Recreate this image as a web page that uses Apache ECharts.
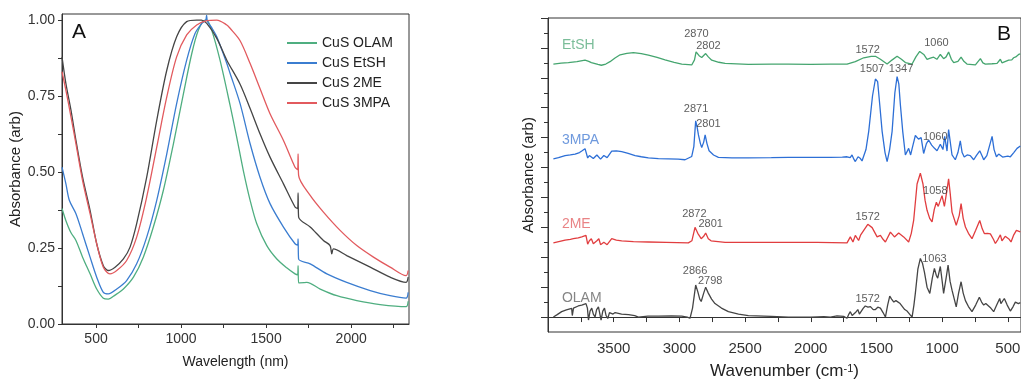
<!DOCTYPE html>
<html><head><meta charset="utf-8">
<script src="https://cdn.jsdelivr.net/npm/echarts@6/dist/echarts.min.js"></script>
<style>html,body{margin:0;padding:0;background:#fff}#c{width:1021px;height:383px}</style>
</head><body><div id="c"></div>
<script>
// ---------- Panel A: UV-Vis-NIR absorbance (wavelength nm, absorbance) ----------
const uvNames = ['CuS OLAM', 'CuS EtSH', 'CuS 2ME', 'CuS 3MPA'];
const uvOLAM = [[300,0.38],[323,0.34],[353,0.30],[382,0.275],[421,0.22],[465,0.165],[504,0.115],[543,0.085],[572,0.082],[612,0.095],[661,0.115],[720,0.154],[778,0.22],[837,0.319],[896,0.44],[955,0.593],[1014,0.758],[1063,0.89],[1102,0.967],[1141,1.0],[1151,1.0],[1180,0.967],[1229,0.868],[1288,0.72],[1327,0.615],[1366,0.505],[1406,0.407],[1445,0.33],[1504,0.258],[1563,0.214],[1621,0.185],[1670,0.165],[1685,0.162],[1688,0.192],[1691,0.135],[1739,0.137],[1818,0.115],[1916,0.093],[2033,0.077],[2170,0.064],[2323,0.057],[2335,0.075]];
const uvEtSH = [[300,0.516],[323,0.461],[343,0.407],[382,0.363],[421,0.297],[465,0.22],[504,0.154],[543,0.104],[572,0.099],[622,0.115],[680,0.143],[739,0.198],[798,0.286],[857,0.407],[916,0.56],[974,0.725],[1033,0.868],[1082,0.956],[1122,0.989],[1145,1.0],[1150,1.015],[1155,0.995],[1180,0.975],[1210,0.945],[1269,0.857],[1288,0.825],[1347,0.725],[1406,0.593],[1464,0.483],[1523,0.396],[1602,0.319],[1670,0.264],[1685,0.26],[1688,0.28],[1691,0.214],[1759,0.198],[1857,0.165],[1974,0.137],[2112,0.11],[2229,0.093],[2323,0.085],[2335,0.104]];
const uv2ME = [[300,0.879],[323,0.791],[353,0.703],[382,0.604],[421,0.483],[465,0.374],[504,0.264],[543,0.192],[572,0.176],[612,0.187],[661,0.214],[700,0.253],[739,0.33],[798,0.483],[857,0.67],[916,0.835],[974,0.945],[1033,0.995],[1092,1.0],[1120,1.0],[1151,0.989],[1210,0.94],[1269,0.868],[1347,0.789],[1406,0.709],[1464,0.626],[1523,0.549],[1602,0.461],[1670,0.385],[1685,0.38],[1688,0.431],[1691,0.352],[1759,0.319],[1837,0.275],[1876,0.258],[1886,0.231],[1896,0.247],[1974,0.225],[2112,0.187],[2229,0.154],[2323,0.137],[2335,0.154]];
const uv3MPA = [[300,0.83],[323,0.769],[353,0.681],[382,0.593],[421,0.472],[465,0.363],[504,0.264],[543,0.187],[582,0.165],[622,0.176],[680,0.209],[739,0.286],[798,0.418],[857,0.582],[916,0.747],[974,0.879],[1033,0.951],[1092,0.984],[1151,0.998],[1210,1.0],[1269,0.984],[1288,0.973],[1347,0.932],[1406,0.857],[1464,0.775],[1523,0.692],[1602,0.604],[1670,0.516],[1685,0.508],[1688,0.56],[1691,0.489],[1759,0.423],[1837,0.368],[1935,0.308],[2033,0.258],[2131,0.22],[2229,0.187],[2323,0.159],[2335,0.176]];
const uvXLabels = [500, 1000, 1500, 2000];
const uvXTicks = [500, 750, 1000, 1250, 1500, 1750, 2000, 2250];
const uvYLabels = [0, 0.25, 0.5, 0.75, 1.0];
const uvYTicks = [0, 0.125, 0.25, 0.375, 0.5, 0.625, 0.75, 0.875, 1.0];

// ---------- Panel B: FTIR spectra (wavenumber cm-1, offset absorbance) ----------
const irEtSH = [[3959,8.46],[3900,8.49],[3845,8.51],[3780,8.54],[3718,8.59],[3690,8.55],[3670,8.51],[3620,8.45],[3594,8.42],[3560,8.46],[3528,8.54],[3490,8.66],[3451,8.77],[3400,8.82],[3350,8.84],[3290,8.81],[3236,8.76],[3170,8.68],[3109,8.6],[3040,8.52],[2982,8.46],[2906,8.43],[2885,8.6],[2873,8.87],[2850,8.74],[2830,8.68],[2815,8.74],[2800,8.81],[2780,8.7],[2754,8.59],[2700,8.52],[2652,8.48],[2475,8.45],[2300,8.46],[2170,8.46],[2000,8.45],[1850,8.46],[1724,8.46],[1661,8.54],[1597,8.67],[1540,8.72],[1508,8.72],[1470,8.62],[1419,8.46],[1380,8.6],[1343,8.72],[1310,8.62],[1280,8.51],[1229,8.46],[1200,8.7],[1171,8.88],[1140,8.78],[1115,8.62],[1090,8.66],[1065,8.69],[1040,8.62],[1014,8.78],[989,8.64],[970,8.7],[951,8.86],[930,8.62],[912,8.51],[880,8.55],[856,8.69],[835,8.55],[811,8.46],[747,8.43],[709,8.64],[690,8.5],[671,8.46],[620,8.47],[582,8.48],[557,8.62],[545,8.5],[532,8.52],[494,8.59],[470,8.6],[456,8.67],[440,8.7],[418,8.78],[405,8.8]];
const ir3MPA = [[3959,5.29],[3920,5.33],[3870,5.4],[3830,5.42],[3794,5.45],[3760,5.5],[3743,5.55],[3718,5.63],[3698,5.32],[3685,5.4],[3670,5.45],[3655,5.3],[3642,5.26],[3628,5.42],[3616,5.45],[3600,5.28],[3591,5.23],[3575,5.4],[3565,5.38],[3550,5.33],[3540,5.36],[3515,5.55],[3480,5.56],[3439,5.53],[3390,5.47],[3337,5.4],[3290,5.36],[3236,5.32],[3160,5.3],[3084,5.29],[3010,5.28],[2957,5.26],[2906,5.37],[2890,5.7],[2876,6.56],[2865,6.35],[2855,6.09],[2840,5.8],[2830,5.67],[2815,5.85],[2804,6.09],[2790,5.8],[2774,5.56],[2740,5.42],[2703,5.34],[2600,5.32],[2475,5.32],[2300,5.33],[2170,5.34],[2000,5.34],[1851,5.34],[1760,5.35],[1724,5.36],[1700,5.33],[1686,5.42],[1672,5.28],[1661,5.2],[1640,5.36],[1622,5.3],[1610,5.22],[1597,5.2],[1580,5.6],[1559,6.21],[1530,7.4],[1508,7.96],[1491,7.87],[1475,7.1],[1457,6.21],[1435,5.5],[1419,5.2],[1400,5.6],[1381,6.21],[1360,7.5],[1343,8.04],[1330,7.8],[1318,7.1],[1300,6.2],[1280,5.42],[1255,5.64],[1240,5.42],[1225,5.7],[1204,6.07],[1180,5.95],[1160,6.0],[1141,5.47],[1120,5.8],[1103,5.92],[1080,5.75],[1060,5.65],[1039,5.56],[1014,5.78],[994,5.6],[981,6.04],[963,5.55],[951,6.27],[925,5.42],[900,5.26],[880,5.5],[862,5.89],[848,5.5],[832,5.35],[810,5.42],[786,5.4],[760,5.26],[740,5.4],[714,5.56],[695,5.38],[684,5.26],[660,5.4],[635,5.8],[620,6.04],[605,5.6],[587,5.36],[570,5.45],[557,5.47],[540,5.35],[527,5.3],[500,5.38],[481,5.36],[455,5.5],[430,5.64],[405,5.72]];
const ir2ME = [[3959,2.48],[3910,2.53],[3870,2.57],[3830,2.6],[3807,2.62],[3770,2.65],[3743,2.68],[3711,2.73],[3698,2.44],[3685,2.55],[3670,2.62],[3655,2.45],[3642,2.4],[3628,2.55],[3613,2.62],[3600,2.42],[3588,2.37],[3575,2.5],[3562,2.51],[3550,2.42],[3540,2.45],[3515,2.62],[3480,2.57],[3439,2.55],[3350,2.52],[3236,2.51],[3100,2.5],[2932,2.48],[2905,2.55],[2881,3.0],[2860,2.8],[2834,2.62],[2815,2.7],[2800,2.81],[2780,2.62],[2759,2.55],[2652,2.5],[2400,2.5],[2170,2.5],[1950,2.5],[1724,2.48],[1699,2.68],[1679,2.51],[1661,2.73],[1636,2.56],[1620,2.75],[1597,2.9],[1566,3.1],[1533,2.99],[1495,2.68],[1470,2.73],[1450,2.6],[1432,2.51],[1394,2.84],[1363,2.68],[1331,2.81],[1293,2.68],[1255,2.51],[1235,2.8],[1217,3.23],[1191,4.45],[1166,4.81],[1146,4.45],[1130,3.9],[1115,3.57],[1095,3.3],[1077,3.18],[1060,3.6],[1044,3.84],[1030,3.7],[1018,3.68],[1001,4.06],[983,3.7],[965,4.2],[951,4.62],[938,4.1],[925,3.51],[893,3.07],[870,3.4],[856,3.79],[840,3.3],[823,3.01],[800,2.8],[773,2.62],[745,2.9],[714,3.23],[695,2.95],[679,2.79],[655,2.8],[633,2.78],[610,2.6],[595,2.46],[575,2.6],[557,2.75],[545,2.55],[537,2.51],[520,2.7],[506,2.75],[490,2.6],[476,2.51],[455,2.75],[435,2.9],[405,2.85]];
const irOLAM = [[3959,0.0],[3930,0.08],[3896,0.18],[3860,0.24],[3820,0.29],[3815,0.05],[3806,0.3],[3794,0.34],[3770,0.37],[3743,0.4],[3711,0.45],[3700,0.3],[3692,-0.1],[3680,0.2],[3667,0.3],[3655,0.1],[3642,0.0],[3630,0.25],[3616,0.34],[3605,0.1],[3596,-0.1],[3583,0.2],[3570,0.3],[3558,0.05],[3545,-0.05],[3532,0.15],[3519,0.2],[3505,0.1],[3489,0.15],[3440,0.1],[3387,0.08],[3340,0.05],[3312,0.0],[3240,0.03],[3160,0.03],[3060,0.04],[2982,0.03],[2940,0.0],[2919,-0.04],[2900,0.3],[2876,1.07],[2860,0.85],[2845,0.6],[2834,0.52],[2815,0.8],[2800,1.0],[2780,0.8],[2755,0.6],[2729,0.45],[2680,0.3],[2627,0.18],[2550,0.1],[2475,0.05],[2300,0.02],[2170,0.0],[2000,0.0],[1900,0.01],[1851,0.0],[1800,0.04],[1750,0.02],[1724,-0.04],[1710,0.1],[1699,0.18],[1685,0.05],[1674,0.0],[1660,0.15],[1642,0.25],[1630,0.1],[1616,0.15],[1600,0.3],[1585,0.37],[1565,0.33],[1546,0.35],[1525,0.25],[1508,0.25],[1490,0.33],[1470,0.3],[1450,0.15],[1432,0.0],[1415,0.4],[1399,0.7],[1385,0.6],[1368,0.5],[1352,0.55],[1338,0.52],[1320,0.45],[1305,0.4],[1285,0.25],[1267,0.2],[1245,0.08],[1229,0.0],[1215,0.4],[1204,0.8],[1185,1.6],[1166,1.96],[1150,1.8],[1135,1.5],[1115,1.0],[1094,0.79],[1075,1.3],[1059,1.63],[1045,1.4],[1034,1.3],[1014,1.69],[1000,1.2],[989,0.79],[970,1.3],[955,1.74],[940,1.2],[925,0.9],[893,0.34],[875,0.8],[856,1.18],[840,0.8],[823,0.55],[800,0.35],[773,0.18],[745,0.4],[717,0.66],[700,0.5],[684,0.4],[668,0.45],[653,0.51],[630,0.3],[608,0.18],[585,0.4],[562,0.62],[553,0.45],[544,0.4],[527,0.62],[505,0.4],[481,0.2],[460,0.35],[443,0.5],[420,0.45],[405,0.48]];
const irXLabels = [500, 1000, 1500, 2000, 2500, 3000, 3500];
const irXTicks = [500, 750, 1000, 1250, 1500, 1750, 2000, 2250, 2500, 2750, 3000, 3250, 3500, 3750];
const irYMajor = [0, 1, 2, 3, 4, 5, 6, 7, 8, 9, 10];
const irYMinor = [0.5, 1.5, 2.5, 3.5, 4.5, 5.5, 6.5, 7.5, 8.5, 9.5];
// peak annotations: [wavenumber, offset value, text]
const irPeakLabels = [
  [2870, 9.47, '2870'], [2779, 9.07, '2802'], [1567, 8.93, '1572'], [1044, 9.16, '1060'],
  [2873, 6.95, '2871'], [2779, 6.45, '2801'], [1534, 8.29, '1507'], [1313, 8.29, '1347'], [1052, 6.03, '1060'],
  [2886, 3.45, '2872'], [2762, 3.11, '2801'], [1567, 3.36, '1572'], [1052, 4.23, '1058'],
  [2881, 1.55, '2866'], [2766, 1.22, '2798'], [1567, 0.59, '1572'], [1059, 1.93, '1063']
];
// sample name tags: [wavenumber, offset value, text]
const irNameTags = [[3898, 9.10, 'EtSH'], [3898, 5.90, '3MPA'], [3898, 3.11, '2ME'], [3898, 0.63, 'OLAM']];

const FONT = 'Liberation Sans, Arial, sans-serif';
const uvColors = ['#4fae80', '#3b7dd0', '#454545', '#e25a5e'];
const irColors = ['#45a56f', '#2d6fd6', '#e13d3f', '#454545'];
const tagColors = ['#5aad80', '#4a80d4', '#e46466', '#666666'];
const axisLineStyle = { color: '#333', width: 1 };
const plain = v => String(v);

const chart = echarts.init(document.getElementById('c'), null, { renderer: 'canvas' });

const uvData = [uvOLAM, uvEtSH, uv2ME, uv3MPA];
const irData = [irEtSH, ir3MPA, ir2ME, irOLAM];
const irNames = ['EtSH', '3MPA', '2ME', 'OLAM'];

const series = [];
uvData.forEach((d, i) => series.push({
  name: uvNames[i], type: 'line', xAxisIndex: 0, yAxisIndex: 0, data: d,
  showSymbol: false, symbol: 'none', smooth: 0.3,
  lineStyle: { color: uvColors[i], width: 1.3 },
  itemStyle: { color: uvColors[i] }, z: 3
}));
irData.forEach((d, i) => series.push({
  name: 'FTIR ' + irNames[i], type: 'line', xAxisIndex: 1, yAxisIndex: 1, data: d,
  showSymbol: false, symbol: 'none', lineStyle: { color: irColors[i], width: 1.3 },
  itemStyle: { color: irColors[i] }, z: 3
}));
series.push({
  name: 'peaks', type: 'scatter', xAxisIndex: 1, yAxisIndex: 1, silent: true,
  symbolSize: 1, itemStyle: { color: 'rgba(0,0,0,0)' },
  data: irPeakLabels.map(p => ({ value: [p[0], p[1]], label: { formatter: p[2] } })),
  label: { show: true, position: 'inside', fontSize: 11, color: '#333', fontFamily: FONT }, z: 5
});
series.push({
  name: 'tags', type: 'scatter', xAxisIndex: 1, yAxisIndex: 1, silent: true,
  symbolSize: 1, itemStyle: { color: 'rgba(0,0,0,0)' },
  data: irNameTags.map((p, i) => ({ value: [p[0], p[1]], label: { formatter: p[2], color: tagColors[i] } })),
  label: { show: true, position: 'right', distance: 0, fontSize: 14, fontFamily: FONT }, z: 5
});

chart.setOption({
  animation: false,
  backgroundColor: '#fff',
  textStyle: { fontFamily: FONT },
  grid: [
    { left: 62, top: 14, width: 347, height: 310, show: true, borderColor: '#333', borderWidth: 1,
      containLabel: false, outerBoundsMode: 'none' },
    { left: 548, top: 18, width: 473, height: 314, show: true, borderColor: '#333', borderWidth: 1,
      containLabel: false, outerBoundsMode: 'none' }
  ],
  legend: {
    data: uvNames, orient: 'vertical', left: 282, top: 31, itemWidth: 30, itemHeight: 2,
    icon: 'rect', itemGap: 6, textStyle: { fontSize: 14, color: '#222', fontFamily: FONT }
  },
  xAxis: [
    {
      gridIndex: 0, type: 'value', min: 300, max: 2340,
      name: 'Wavelength (nm)', nameLocation: 'middle', nameGap: 31,
      nameTextStyle: { fontSize: 14, color: '#222', fontFamily: FONT },
      axisLine: { lineStyle: axisLineStyle },
      axisTick: { customValues: uvXTicks, length: 4, lineStyle: axisLineStyle },
      axisLabel: { customValues: uvXLabels, fontSize: 14, color: '#333', margin: 8, formatter: plain },
      splitLine: { show: false }
    },
    {
      gridIndex: 1, type: 'value', min: 400, max: 4000, inverse: true,
      name: 'Wavenumber (cm{sup|-1})', nameLocation: 'middle', nameGap: 31,
      nameTextStyle: { fontSize: 17, color: '#222', fontFamily: FONT,
        rich: { sup: { fontSize: 11, verticalAlign: 'top', lineHeight: 14, color: '#222', fontFamily: FONT } } },
      axisLine: { lineStyle: axisLineStyle },
      axisTick: { customValues: irXTicks, length: 5, lineStyle: axisLineStyle },
      axisLabel: { customValues: irXLabels, fontSize: 15, color: '#333', margin: 9, formatter: plain },
      splitLine: { show: false }
    }
  ],
  yAxis: [
    {
      gridIndex: 0, type: 'value', min: 0, max: 1.02,
      name: 'Absorbance (arb)', nameLocation: 'middle', nameGap: 34,
      nameTextStyle: { fontSize: 15, color: '#222', fontFamily: FONT },
      axisLine: { show: true, lineStyle: axisLineStyle },
      axisTick: { show: true, customValues: uvYTicks, length: 4, lineStyle: axisLineStyle },
      axisLabel: { customValues: uvYLabels, fontSize: 14, color: '#333', margin: 7,
        formatter: v => v.toFixed(2) },
      splitLine: { show: false }
    },
    {
      gridIndex: 1, type: 'value', min: -0.5, max: 10, position: 'left',
      name: 'Absorbance (arb)', nameLocation: 'middle', nameGap: 12,
      nameTextStyle: { fontSize: 15, color: '#222', fontFamily: FONT },
      axisLine: { show: true, lineStyle: axisLineStyle },
      axisTick: { show: true, customValues: irYMajor, length: 7, lineStyle: axisLineStyle },
      axisLabel: { show: false },
      splitLine: { show: false }
    },
    {
      gridIndex: 1, type: 'value', min: -0.5, max: 10, position: 'left', offset: 0,
      axisLine: { show: false },
      axisTick: { show: true, customValues: irYMinor, length: 4, lineStyle: axisLineStyle },
      axisLabel: { show: false },
      splitLine: { show: false }
    }
  ],
  graphic: [
    { type: 'text', left: 72, top: 22, style: { text: 'A', font: '21px ' + FONT, fill: '#111' } },
    { type: 'text', left: 997, top: 24, style: { text: 'B', font: '21px ' + FONT, fill: '#111' } }
  ],
  series: series
});
</script></body></html>
